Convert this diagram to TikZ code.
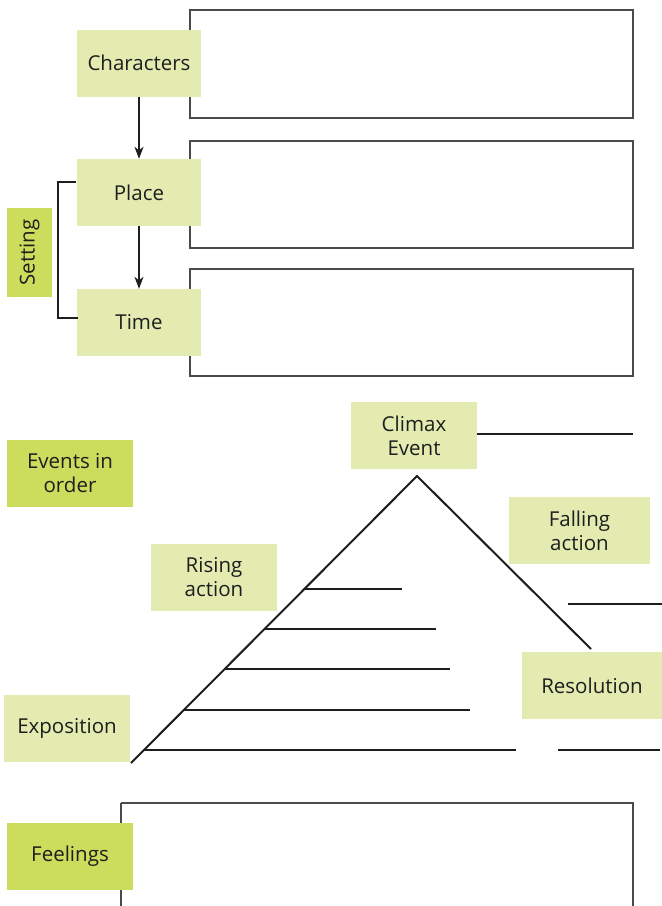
\documentclass[tikz,border=0pt]{standalone}
\usepackage{fontspec}
\setmainfont{Open Sans}
\usetikzlibrary{arrows.meta}
\definecolor{lgreen}{HTML}{E3EBB1}
\definecolor{dgreen}{HTML}{CCDC5C}
\definecolor{boxline}{HTML}{4A4A4A}
\definecolor{txt}{HTML}{1E1E1E}
\begin{document}
\begin{tikzpicture}[x=1pt,y=-1pt,
  lab/.style={fill=lgreen, inner sep=0pt, minimum width=124pt, minimum height=67pt, align=center, text=txt, font=\fontsize{20.5}{24}\selectfont},
  dlab/.style={lab, fill=dgreen},
  answerbox/.style={draw=boxline, line width=1.3pt},
  ln/.style={draw=txt, line width=2pt},
  arr/.style={draw=txt, line width=1.3pt, -{Stealth[length=12pt,width=9pt,inset=3.5pt]}}]
\useasboundingbox (0,0) rectangle (662,906);
% answer boxes
\draw[answerbox] (190,10) rectangle (633,118);
\draw[answerbox] (190,141) rectangle (633,248);
\draw[answerbox] (190,269) rectangle (633,376);
\draw[answerbox] (121,803) -- (633,803) -- (633,906) (121,803) -- (121,906);
% top labels
\node[lab] (char) at (139,63) {Characters};
\node[lab] (place) at (139,192.5) {Place};
\node[lab] (time) at (139,322.5) {Time};
\node[dlab, minimum width=45pt, minimum height=89pt] (setting) at (29.5,252.5) {\rotatebox{90}{Setting}};
\draw[arr] (char) -- (place);
\draw[arr] (place) -- (time);
\draw[draw=txt, line width=1.8pt] ([xshift=-1pt]place.west |- 0,182) -- (58,182) -- (58,318) -- ([xshift=1pt]time.west |- 0,318);
% plot diagram
\node[lab, minimum width=126pt] (climax) at (414,435.5) {Climax\\Event};
\node[dlab, minimum width=126pt] (events) at (70,473.5) {Events in\\order};
\node[lab, minimum width=141pt] (falling) at (579.5,530.5) {Falling\\action};
\node[lab, minimum width=126pt] (rising) at (214,577.5) {Rising\\action};
\node[lab, minimum width=140pt] (resolution) at (592,685.5) {Resolution};
\node[lab, minimum width=126pt] (exposition) at (67,728.5) {Exposition};
\node[dlab, minimum width=126pt] (feelings) at (70,856.5) {Feelings};
\coordinate (apex) at (417,476);
\coordinate (lend) at (131,763);
\coordinate (rend) at (591,649);
\draw[ln] (lend) -- (apex) -- (rend);
\coordinate (c1) at (633,434);
\draw[ln] (climax.east |- 0,434) -- (c1);
\coordinate (h1a) at (304.4,589); \coordinate (h1b) at (402,589);
\coordinate (h2a) at (264.6,629); \coordinate (h2b) at (436,629);
\coordinate (h3a) at (224.7,669); \coordinate (h3b) at (450,669);
\coordinate (h4a) at (183.8,710); \coordinate (h4b) at (470,710);
\coordinate (h5a) at (144,750);   \coordinate (h5b) at (516,750);
\draw[ln] (h1a) -- (h1b) (h2a) -- (h2b) (h3a) -- (h3b) (h4a) -- (h4b) (h5a) -- (h5b);
\coordinate (r1a) at (568,604); \coordinate (r1b) at (662,604);
\coordinate (r2a) at (558,750); \coordinate (r2b) at (660,750);
\draw[ln] (r1a) -- (r1b) (r2a) -- (r2b);
\end{tikzpicture}
\end{document}
